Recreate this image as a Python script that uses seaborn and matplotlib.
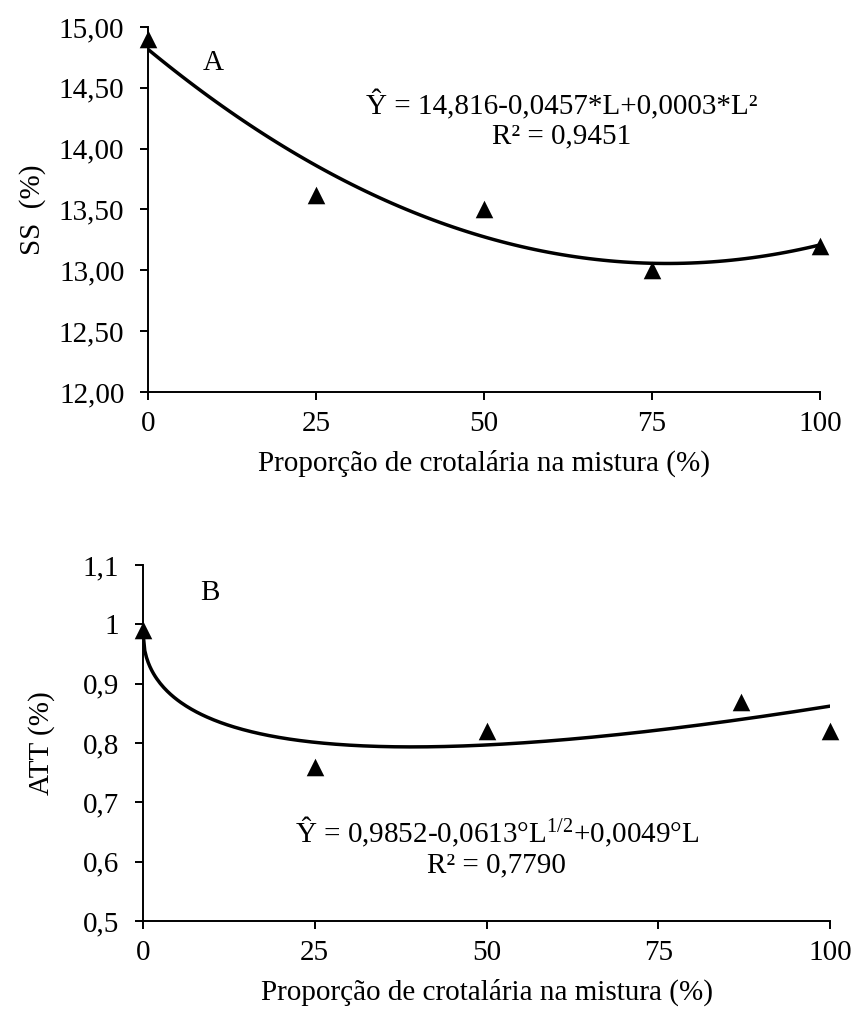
import numpy as np
import pandas as pd
import matplotlib
matplotlib.use("Agg")
import matplotlib.pyplot as plt
import seaborn as sns

# ---- data ----
prop_a = [0, 25, 50, 75, 100]
ss_vals = [14.9, 13.62, 13.5, 13.0, 13.2]
prop_b = [0, 25, 50, 87, 100]
att_vals = [0.99, 0.76, 0.82, 0.87, 0.82]
att_coef = [0.9852, -0.0613, 0.0049]  # b0, b1 (sqrt L), b2 (L)

yticks_a = [12.0, 12.5, 13.0, 13.5, 14.0, 14.5, 15.0]
yticklabels_a = ["12,00", "12,50", "13,00", "13,50", "14,00", "14,50", "15,00"]
yticks_b = [0.5, 0.6, 0.7, 0.8, 0.9, 1.0, 1.1]
yticklabels_b = ["0,5", "0,6", "0,7", "0,8", "0,9", "1", "1,1"]
xticks = [0, 25, 50, 75, 100]

sns.set_style("ticks")
plt.rcParams["font.family"] = ["Liberation Serif", "DejaVu Serif"]
plt.rcParams["mathtext.fontset"] = "custom"
plt.rcParams["mathtext.rm"] = "Liberation Serif"
plt.rcParams["mathtext.it"] = "Liberation Serif:italic"
plt.rcParams["text.color"] = "black"
plt.rcParams["axes.labelcolor"] = "black"
FS = 21

fig = plt.figure(figsize=(8.55, 10.11), dpi=100)
ax1 = fig.add_axes([0.1731, 0.6123, 0.959 - 0.1731, 0.9733 - 0.6123])
ax2 = fig.add_axes([0.1673, 0.0890, 0.9708 - 0.1673, 0.4411 - 0.0890])

# ---- panel A ----
df_a = pd.DataFrame({"L": prop_a, "SS": ss_vals})
sns.regplot(data=df_a, x="L", y="SS", order=2, ci=None, ax=ax1,
            marker="^", color="black",
            scatter_kws={"s": 160, "color": "black", "alpha": 1, "zorder": 3, "linewidths": 0},
            line_kws={"color": "black", "lw": 2.5, "zorder": 2})
ax1.set_xlim(0, 100)
ax1.set_ylim(12.0, 15.0)
ax1.set_yticks(yticks_a)
ax1.set_yticklabels(yticklabels_a)
ax1.set_xticks(xticks)
ax1.set_xticklabels([str(v) for v in xticks])
ax1.set_xlabel("Proporção de crotalária na mistura (%)", fontsize=FS, labelpad=9)
ax1.set_ylabel("SS  (%)", fontsize=FS, labelpad=9)
ax1.text(9.7, 14.70, "A", fontsize=FS, ha="center", va="center")
ax1.text(61.6, 14.24, "Ŷ = 14,816-0,0457*L+0,0003*L²\nR² = 0,9451",
         fontsize=FS, ha="center", va="center", multialignment="center", linespacing=1.15)

# ---- panel B ----
df_b = pd.DataFrame({"L": prop_b, "ATT": att_vals})
grid = np.linspace(0, 100, 400)
fit_b = att_coef[0] + att_coef[1] * np.sqrt(grid) + att_coef[2] * grid
df_fit = pd.DataFrame({"L": grid, "ATT": fit_b})
sns.lineplot(data=df_fit, x="L", y="ATT", ax=ax2, color="black", lw=2.5, zorder=2)
sns.scatterplot(data=df_b, x="L", y="ATT", ax=ax2, marker="^", color="black",
                s=160, linewidth=0, zorder=3, clip_on=False)
ax2.set_xlim(0, 100)
ax2.set_ylim(0.5, 1.1)
ax2.set_yticks(yticks_b)
ax2.set_yticklabels(yticklabels_b)
ax2.set_xticks(xticks)
ax2.set_xticklabels([str(v) for v in xticks])
ax2.set_xlabel("Proporção de crotalária na mistura (%)", fontsize=FS, labelpad=9)
ax2.set_ylabel("ATT (%)", fontsize=FS, labelpad=20)
ax2.text(9.75, 1.053, "B", fontsize=FS, ha="center", va="center")
ax2.text(51.5, 0.626,
         "Ŷ = 0,9852-0,0613°L$\\mathregular{^{1/2}}$+0,0049°L\nR² = 0,7790",
         fontsize=FS, ha="center", va="center", multialignment="center", linespacing=1.15)

for ax in (ax1, ax2):
    sns.despine(ax=ax)
    for s in ("left", "bottom"):
        ax.spines[s].set_linewidth(1.4)
        ax.spines[s].set_color("black")
    ax.tick_params(axis="both", which="major", direction="out", length=6, width=1.4,
                   color="black", labelsize=FS, labelcolor="black")
    ax.tick_params(axis="y", pad=11)
    ax.tick_params(axis="x", pad=8)
    ax.set_facecolor("white")
    for c in ax.collections:
        c.set_clip_on(False)

fig.savefig("out.png", dpi=100, facecolor="white")
